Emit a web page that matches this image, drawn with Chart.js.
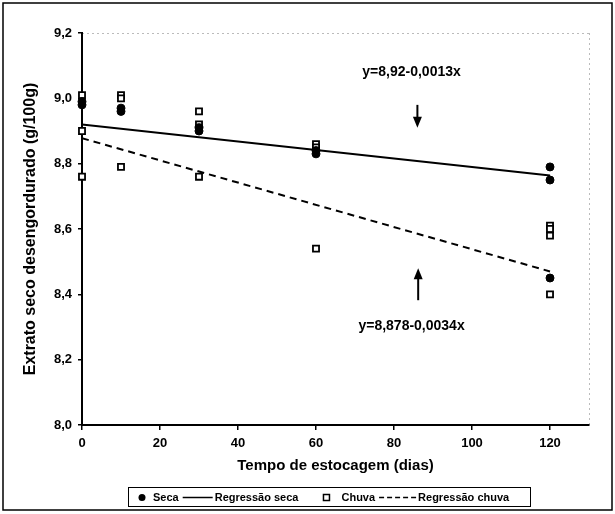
<!DOCTYPE html>
<html>
<head>
<meta charset="utf-8">
<script src="https://cdn.jsdelivr.net/npm/chart.js@4.4.0/dist/chart.umd.min.js"></script>
<style>
  html, body { margin: 0; padding: 0; background: #fff; }
</style>
</head>
<body>
<canvas id="grafico" width="615" height="514"></canvas>
<script>
// dias de estocagem e extrato seco desengordurado (g/100g)
var diasSeca = [0, 0, 10, 10, 30, 30, 60, 60, 120, 120, 120];
var esdSeca = [8.99, 8.98, 8.97, 8.96, 8.91, 8.90, 8.84, 8.83, 8.79, 8.75, 8.45];

var diasChuva = [0, 0, 0, 10, 10, 10, 30, 30, 30, 60, 60, 60, 120, 120, 120, 120];
var esdChuva = [9.01, 8.90, 8.76, 9.01, 9.00, 8.79, 8.96, 8.92, 8.76, 8.86, 8.85, 8.54, 8.61, 8.60, 8.58, 8.40];

// coeficientes das regressões (intercepto, inclinação)
var regSeca = [8.92, -0.0013];
var regChuva = [8.878, -0.0034];
var diasReg = [0, 120];

var eqSeca = 'y=8,92-0,0013x';
var eqChuva = 'y=8,878-0,0034x';

var yTicks = [8.0, 8.2, 8.4, 8.6, 8.8, 9.0, 9.2];
var xTicks = [0, 20, 40, 60, 80, 100, 120];

function pontos(xs, ys) {
    return xs.map(function (x, i) { return { x: x, y: ys[i] }; });
}

function reta(coef) {
    return diasReg.map(function (x) { return { x: x, y: coef[0] + coef[1] * x }; });
}

Chart.defaults.font.family = '"Liberation Sans", Arial, sans-serif';
Chart.defaults.color = '#000';

// setas e equações, posicionadas em coordenadas dos eixos
var anotacoes = {
    id: 'anotacoes',
    afterDatasetsDraw: function (chart) {
        var ctx = chart.ctx, xs = chart.scales.x, ys = chart.scales.y;
        ctx.save();
        ctx.fillStyle = '#000';
        ctx.strokeStyle = '#000';
        ctx.font = 'bold 14px "Liberation Sans", Arial';
        ctx.textAlign = 'center';
        ctx.textBaseline = 'middle';
        ctx.fillText(eqSeca, xs.getPixelForValue(84.5), ys.getPixelForValue(9.081));
        ctx.fillText(eqChuva, xs.getPixelForValue(84.5), ys.getPixelForValue(8.302));

        seta(ctx, xs.getPixelForValue(86), ys.getPixelForValue(8.98), ys.getPixelForValue(8.91));
        seta(ctx, xs.getPixelForValue(86.2), ys.getPixelForValue(8.382), ys.getPixelForValue(8.48));
        ctx.restore();
    }
};

function seta(ctx, x, y0, y1) {
    var dir = y1 > y0 ? 1 : -1;
    ctx.lineWidth = 2;
    ctx.beginPath();
    ctx.moveTo(x, y0);
    ctx.lineTo(x, y1 - dir * 8);
    ctx.stroke();
    ctx.beginPath();
    ctx.moveTo(x, y1);
    ctx.lineTo(x - 4.5, y1 - dir * 11);
    ctx.lineTo(x + 4.5, y1 - dir * 11);
    ctx.closePath();
    ctx.fill();
}

// moldura externa, bordas claras da área do gráfico e legenda em caixa
var moldura = {
    id: 'moldura',
    beforeDraw: function (chart) {
        var ctx = chart.ctx, a = chart.chartArea;
        ctx.save();
        ctx.strokeStyle = '#bbb';
        ctx.lineWidth = 1;
        ctx.setLineDash([2, 3]);
        ctx.beginPath();
        ctx.moveTo(a.left, a.top + 0.5);
        ctx.lineTo(a.right, a.top + 0.5);
        ctx.moveTo(a.right + 0.5, a.top);
        ctx.lineTo(a.right + 0.5, a.bottom);
        ctx.stroke();
        ctx.restore();
    },
    afterDraw: function (chart) {
        var ctx = chart.ctx;
        ctx.save();
        ctx.strokeStyle = '#000';
        ctx.lineWidth = 1.5;
        ctx.strokeRect(3, 3, chart.width - 6, chart.height - 7);

        var ds = chart.data.datasets;
        var bx = 128, by = chart.chartArea.bottom + 62, bw = 402, bh = 19;
        ctx.lineWidth = 1;
        ctx.strokeRect(bx + 0.5, by + 0.5, bw, bh);

        ctx.font = 'bold 11px "Liberation Sans", Arial';
        ctx.textBaseline = 'middle';
        ctx.textAlign = 'left';
        var cy = by + bh / 2 + 1;
        var x = bx + 14;

        // Seca
        ctx.fillStyle = '#000';
        ctx.beginPath();
        ctx.arc(x, cy, 3.5, 0, Math.PI * 2);
        ctx.fill();
        x += 11;
        ctx.fillText(ds[0].label, x, cy);
        x += ctx.measureText(ds[0].label).width + 4;

        // Regressão seca
        ctx.lineWidth = 1.5;
        ctx.beginPath();
        ctx.moveTo(x, cy);
        ctx.lineTo(x + 30, cy);
        ctx.stroke();
        x += 32;
        ctx.fillText(ds[2].label, x, cy);
        x += ctx.measureText(ds[2].label).width + 28;

        // Chuva
        ctx.lineWidth = 1.5;
        ctx.fillStyle = '#fff';
        ctx.fillRect(x - 3, cy - 3, 6, 6);
        ctx.strokeRect(x - 3, cy - 3, 6, 6);
        ctx.fillStyle = '#000';
        x += 15;
        ctx.fillText(ds[1].label, x, cy);
        x += ctx.measureText(ds[1].label).width + 4;

        // Regressão chuva
        ctx.setLineDash([5, 3]);
        ctx.beginPath();
        ctx.moveTo(x, cy);
        ctx.lineTo(x + 37, cy);
        ctx.stroke();
        ctx.setLineDash([]);
        x += 39;
        ctx.fillText(ds[3].label, x, cy);
        ctx.restore();
    }
};

new Chart(document.getElementById('grafico').getContext('2d'), {
    type: 'scatter',
    data: {
        datasets: [
            {
                label: 'Seca',
                data: pontos(diasSeca, esdSeca),
                pointStyle: 'circle',
                pointRadius: 4,
                backgroundColor: '#000',
                borderColor: '#000',
                borderWidth: 1,
                clip: false
            },
            {
                label: 'Chuva',
                data: pontos(diasChuva, esdChuva),
                pointStyle: 'rect',
                pointRadius: 4.3,
                backgroundColor: '#fff',
                borderColor: '#000',
                borderWidth: 1.8,
                clip: false
            },
            {
                label: 'Regressão seca',
                data: reta(regSeca),
                showLine: true,
                pointRadius: 0,
                borderColor: '#000',
                borderWidth: 2
            },
            {
                label: 'Regressão chuva',
                data: reta(regChuva),
                showLine: true,
                pointRadius: 0,
                borderColor: '#000',
                borderWidth: 2,
                borderDash: [7, 5]
            }
        ]
    },
    options: {
        responsive: false,
        animation: false,
        layout: { padding: { left: 12, right: 26, top: 33, bottom: 35 } },
        plugins: {
            legend: { display: false },
            tooltip: { enabled: false }
        },
        scales: {
            x: {
                type: 'linear',
                min: 0,
                max: 130,
                afterFit: function (s) { s.height = 54; },
                afterBuildTicks: function (s) { s.ticks = xTicks.map(function (v) { return { value: v }; }); },
                border: { display: true, color: '#000', width: 2 },
                grid: { display: true, drawOnChartArea: false, drawTicks: true, tickLength: 5, color: '#000', lineWidth: 1.5 },
                ticks: { padding: 6, font: { size: 13, weight: 'bold' } },
                title: {
                    display: true,
                    text: 'Tempo de estocagem (dias)',
                    font: { size: 15, weight: 'bold' },
                    padding: { top: 4, bottom: 4 }
                }
            },
            y: {
                type: 'linear',
                min: 8.0,
                max: 9.2,
                afterFit: function (s) { s.width = 70; },
                afterBuildTicks: function (s) { s.ticks = yTicks.map(function (v) { return { value: v }; }); },
                border: { display: true, color: '#000', width: 2 },
                grid: { display: true, drawOnChartArea: false, drawTicks: true, tickLength: 4, color: '#000', lineWidth: 1.5 },
                ticks: {
                    padding: 6,
                    font: { size: 13, weight: 'bold' },
                    callback: function (v) { return v.toFixed(1).replace('.', ','); }
                },
                title: {
                    display: true,
                    text: 'Extrato seco desengordurado (g/100g)',
                    font: { size: 16, weight: 'bold' },
                    padding: { top: 9, bottom: 4 }
                }
            }
        }
    },
    plugins: [moldura, anotacoes]
});
</script>
</body>
</html>
